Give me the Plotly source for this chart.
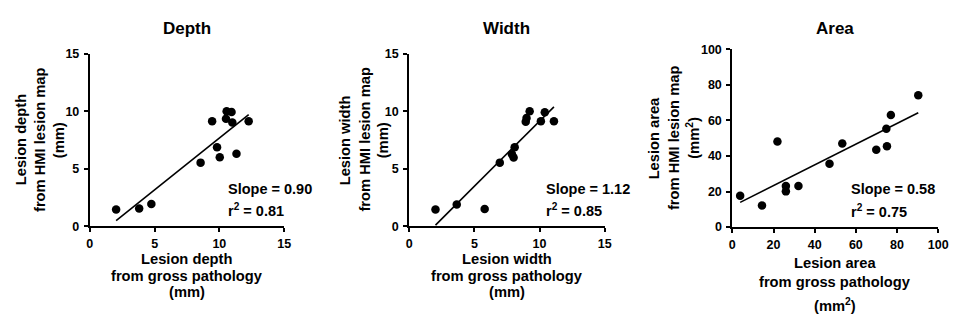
import numpy as np
import plotly.graph_objects as go

W, H = 965, 325

# ---------------- data ----------------
depth_x = [2.03, 3.81, 4.75, 8.55, 9.44, 9.82, 10.03, 10.56, 10.94, 10.51, 11.0, 11.32, 12.26]
depth_y = [1.44, 1.53, 1.92, 5.53, 9.14, 6.86, 6.0, 10.0, 9.94, 9.36, 9.03, 6.31, 9.14]

width_x = [2.02, 3.65, 5.79, 6.95, 7.88, 8.01, 8.09, 8.94, 9.0, 9.24, 10.1, 10.4, 11.1]
width_y = [1.44, 1.89, 1.5, 5.53, 6.25, 5.97, 6.86, 9.08, 9.42, 10.0, 9.14, 9.92, 9.14]

area_x = [3.8, 14.4, 21.9, 26.0, 26.0, 32.1, 47.2, 53.4, 69.9, 74.8, 75.1, 77.0, 90.3]
area_y = [17.6, 12.2, 48.2, 23.1, 20.1, 23.1, 35.7, 47.1, 43.5, 55.4, 45.5, 63.1, 74.2]

titles = ["Depth", "Width", "Area"]
slope_labels = ["Slope = 0.90", "Slope = 1.12", "Slope = 0.58"]
r2_labels = ["r<sup>2</sup> = 0.81", "r<sup>2</sup> = 0.85", "r<sup>2</sup> = 0.75"]
x_title_lines = [
    ["Lesion depth", "from gross pathology", "(mm)"],
    ["Lesion width", "from gross pathology", "(mm)"],
    ["Lesion area", "from gross pathology", "(mm<sup>2</sup>)"],
]
y_title_lines = [
    ["Lesion depth", "from HMI lesion map", "(mm)"],
    ["Lesion width", "from HMI lesion map", "(mm)"],
    ["Lesion area", "from HMI lesion map", "(mm<sup>2</sup>)"],
]
ranges = [[0, 15], [0, 15], [0, 100]]
dticks = [5, 5, 20]

# ---------------- layout geometry (pixels) ----------------
def px(x):
    return x / W

def py(y):
    return 1 - y / H

panels = [
    dict(x0=88, x1=285, ytop=49, ybot=229, ylab=[18.5, 37.5, 57], xlab=[263, 281.5, 298], stat_x=226.5, stat_y=[190, 212]),
    dict(x0=411.7, x1=610, ytop=49, ybot=229, ylab=[347, 366.5, 385.5], xlab=[263.5, 281.5, 297.5], stat_x=548.5, stat_y=[190, 212]),
    dict(x0=739.3, x1=948, ytop=44.3, ybot=230, ylab=[660, 680, 700], xlab=[268, 287, 311], stat_x=858, stat_y=[190.5, 213]),
]

FONT = "Liberation Sans, Arial, sans-serif"

fig = go.Figure()
datasets = [(depth_x, depth_y), (width_x, width_y), (area_x, area_y)]
annotations = []

for i, ((xs, ys), p) in enumerate(zip(datasets, panels)):
    sfx = "" if i == 0 else str(i + 1)
    xa, ya = "x" + sfx, "y" + sfx
    # points
    fig.add_trace(go.Scatter(x=xs, y=ys, mode="markers", xaxis=xa, yaxis=ya,
                             marker=dict(size=8.5, color="black"), showlegend=False,
                             cliponaxis=False))
    # regression line from the data
    m, b = np.polyfit(xs, ys, 1)
    lx = np.array([min(xs), max(xs)])
    fig.add_trace(go.Scatter(x=lx, y=m * lx + b, mode="lines", xaxis=xa, yaxis=ya,
                             line=dict(color="black", width=1.6), showlegend=False,
                             cliponaxis=False))

    axis_common = dict(showline=True, linecolor="black", linewidth=2, ticks="outside",
                       ticklen=4, tickwidth=2, tickcolor="black", showgrid=False,
                       zeroline=False, range=ranges[i], dtick=dticks[i], tick0=0,
                       tickfont=dict(family=FONT, size=12.5, color="black", weight="bold"),
                       fixedrange=True)
    fig.layout["xaxis" + sfx] = dict(axis_common, domain=[px(p["x0"]), px(p["x1"])],
                                     anchor=ya, ticklabelstandoff=1)
    fig.layout["yaxis" + sfx] = dict(axis_common, domain=[py(p["ybot"]), py(p["ytop"])],
                                     anchor=xa, ticklabelstandoff=2)

    cx = (p["x0"] + p["x1"]) / 2
    cy = (p["ytop"] + p["ybot"]) / 2
    # panel title
    annotations.append(dict(text="<b>" + titles[i] + "</b>", x=px(cx), y=py(22), xref="paper", yref="paper",
                            showarrow=False, xanchor="center", yanchor="middle",
                            font=dict(family=FONT, size=17, color="black")))
    # x-axis title lines
    for line, yy in zip(x_title_lines[i], p["xlab"]):
        annotations.append(dict(text="<b>" + line + "</b>", x=px(cx), y=py(yy), xref="paper", yref="paper",
                                showarrow=False, xanchor="center", yanchor="middle",
                                font=dict(family=FONT, size=14.7, color="black")))
    # y-axis title lines
    for line, xx in zip(y_title_lines[i], p["ylab"]):
        annotations.append(dict(text="<b>" + line + "</b>", x=px(xx), y=py(cy), xref="paper", yref="paper",
                                showarrow=False, xanchor="center", yanchor="middle", textangle=-90,
                                font=dict(family=FONT, size=14.7, color="black")))
    # stats
    for txt, yy in zip([slope_labels[i], r2_labels[i]], p["stat_y"]):
        annotations.append(dict(text="<b>" + txt + "</b>", x=px(p["stat_x"]), y=py(yy), xref="paper", yref="paper",
                                showarrow=False, xanchor="left", yanchor="middle",
                                font=dict(family=FONT, size=14.5, color="black")))

fig.update_layout(width=W, height=H, autosize=False, margin=dict(l=0, r=0, t=0, b=0, pad=0),
                  paper_bgcolor="white", plot_bgcolor="white", annotations=annotations,
                  showlegend=False)

fig.write_html("out.html", config={"displayModeBar": False})
